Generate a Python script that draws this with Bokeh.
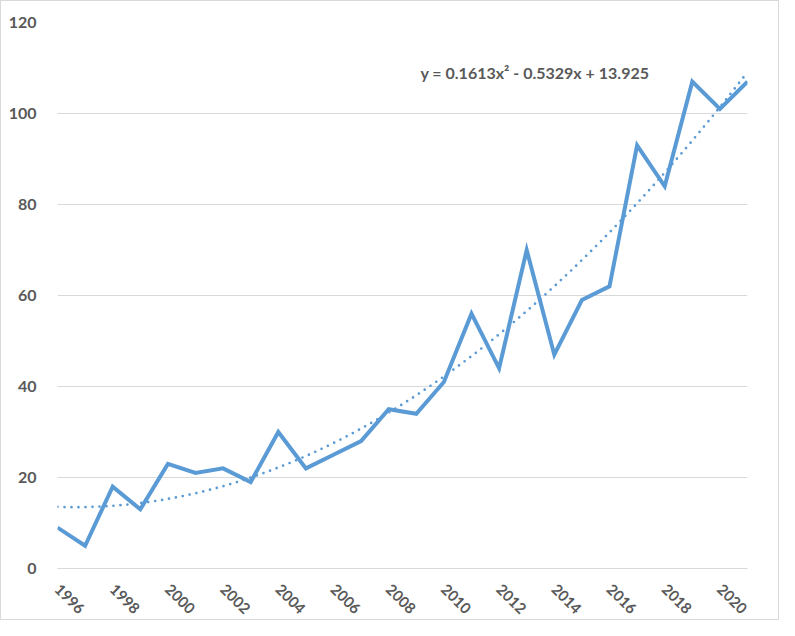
from bokeh.plotting import figure
from bokeh.models import Range1d, FixedTicker, Label
from bokeh.embed import file_html
from bokeh.resources import INLINE
import numpy as np

years = list(range(1996, 2022))
values = [9, 5, 18, 13, 23, 21, 22, 19, 30, 22, 25, 28, 35, 34, 41, 56, 44, 70, 47, 59, 62, 93, 84, 107, 101, 107]
trend_coeffs = [0.1613, -0.5329, 13.925]  # y = a x^2 + b x + c, x = 1..n
x_ticks = list(range(1996, 2021, 2))
y_ticks = [0, 20, 40, 60, 80, 100, 120]
equation_text = "y = 0.1613x\u00b2 - 0.5329x + 13.925"

blue = "#5B9BD5"
gray_text = "#595959"
grid = "#D9D9D9"

p = figure(width=779, height=620, output_backend="svg", toolbar_location=None,
           x_range=Range1d(1996, 2021), y_range=Range1d(0, 120),
           min_border_left=56, min_border_right=33, min_border_top=21, min_border_bottom=51)
p.styles = {"border": "1px solid #D9D9D9", "box-sizing": "border-box"}
p.outline_line_color = None
p.background_fill_color = "white"
p.border_fill_color = "white"

xt = np.linspace(1, len(years), 200)
yt = np.polyval(trend_coeffs, xt)
p.line(xt + years[0] - 1, yt, line_color=blue, line_width=2.7, line_dash="0 7", line_cap="round")
p.line(years, values, line_color=blue, line_width=4, line_join="miter")

p.xaxis.ticker = FixedTicker(ticks=x_ticks)
p.yaxis.ticker = FixedTicker(ticks=y_ticks)
p.xgrid.grid_line_color = None
p.ygrid.grid_line_color = grid
p.ygrid.grid_line_width = 1

for ax in (p.xaxis[0], p.yaxis[0]):
    ax.major_tick_line_color = None
    ax.minor_tick_line_color = None
    ax.major_label_text_font = "Lato"
    ax.major_label_text_font_style = "bold"
    ax.major_label_text_color = gray_text
p.xaxis.major_label_text_font_size = "15px"
p.yaxis.major_label_text_font_size = "16px"
p.xaxis.axis_line_color = grid
p.yaxis.axis_line_color = None
p.xaxis.major_label_orientation = -0.785
p.xaxis.major_label_standoff = 12
p.yaxis.major_label_standoff = 15

p.add_layout(Label(x=2009.15, y=109.0, text=equation_text, text_font="Lato",
                   text_font_style="bold", text_font_size="16px", text_color=gray_text,
                   text_baseline="middle", text_align="left"))

open("out.html", "w").write(file_html(p, INLINE))
